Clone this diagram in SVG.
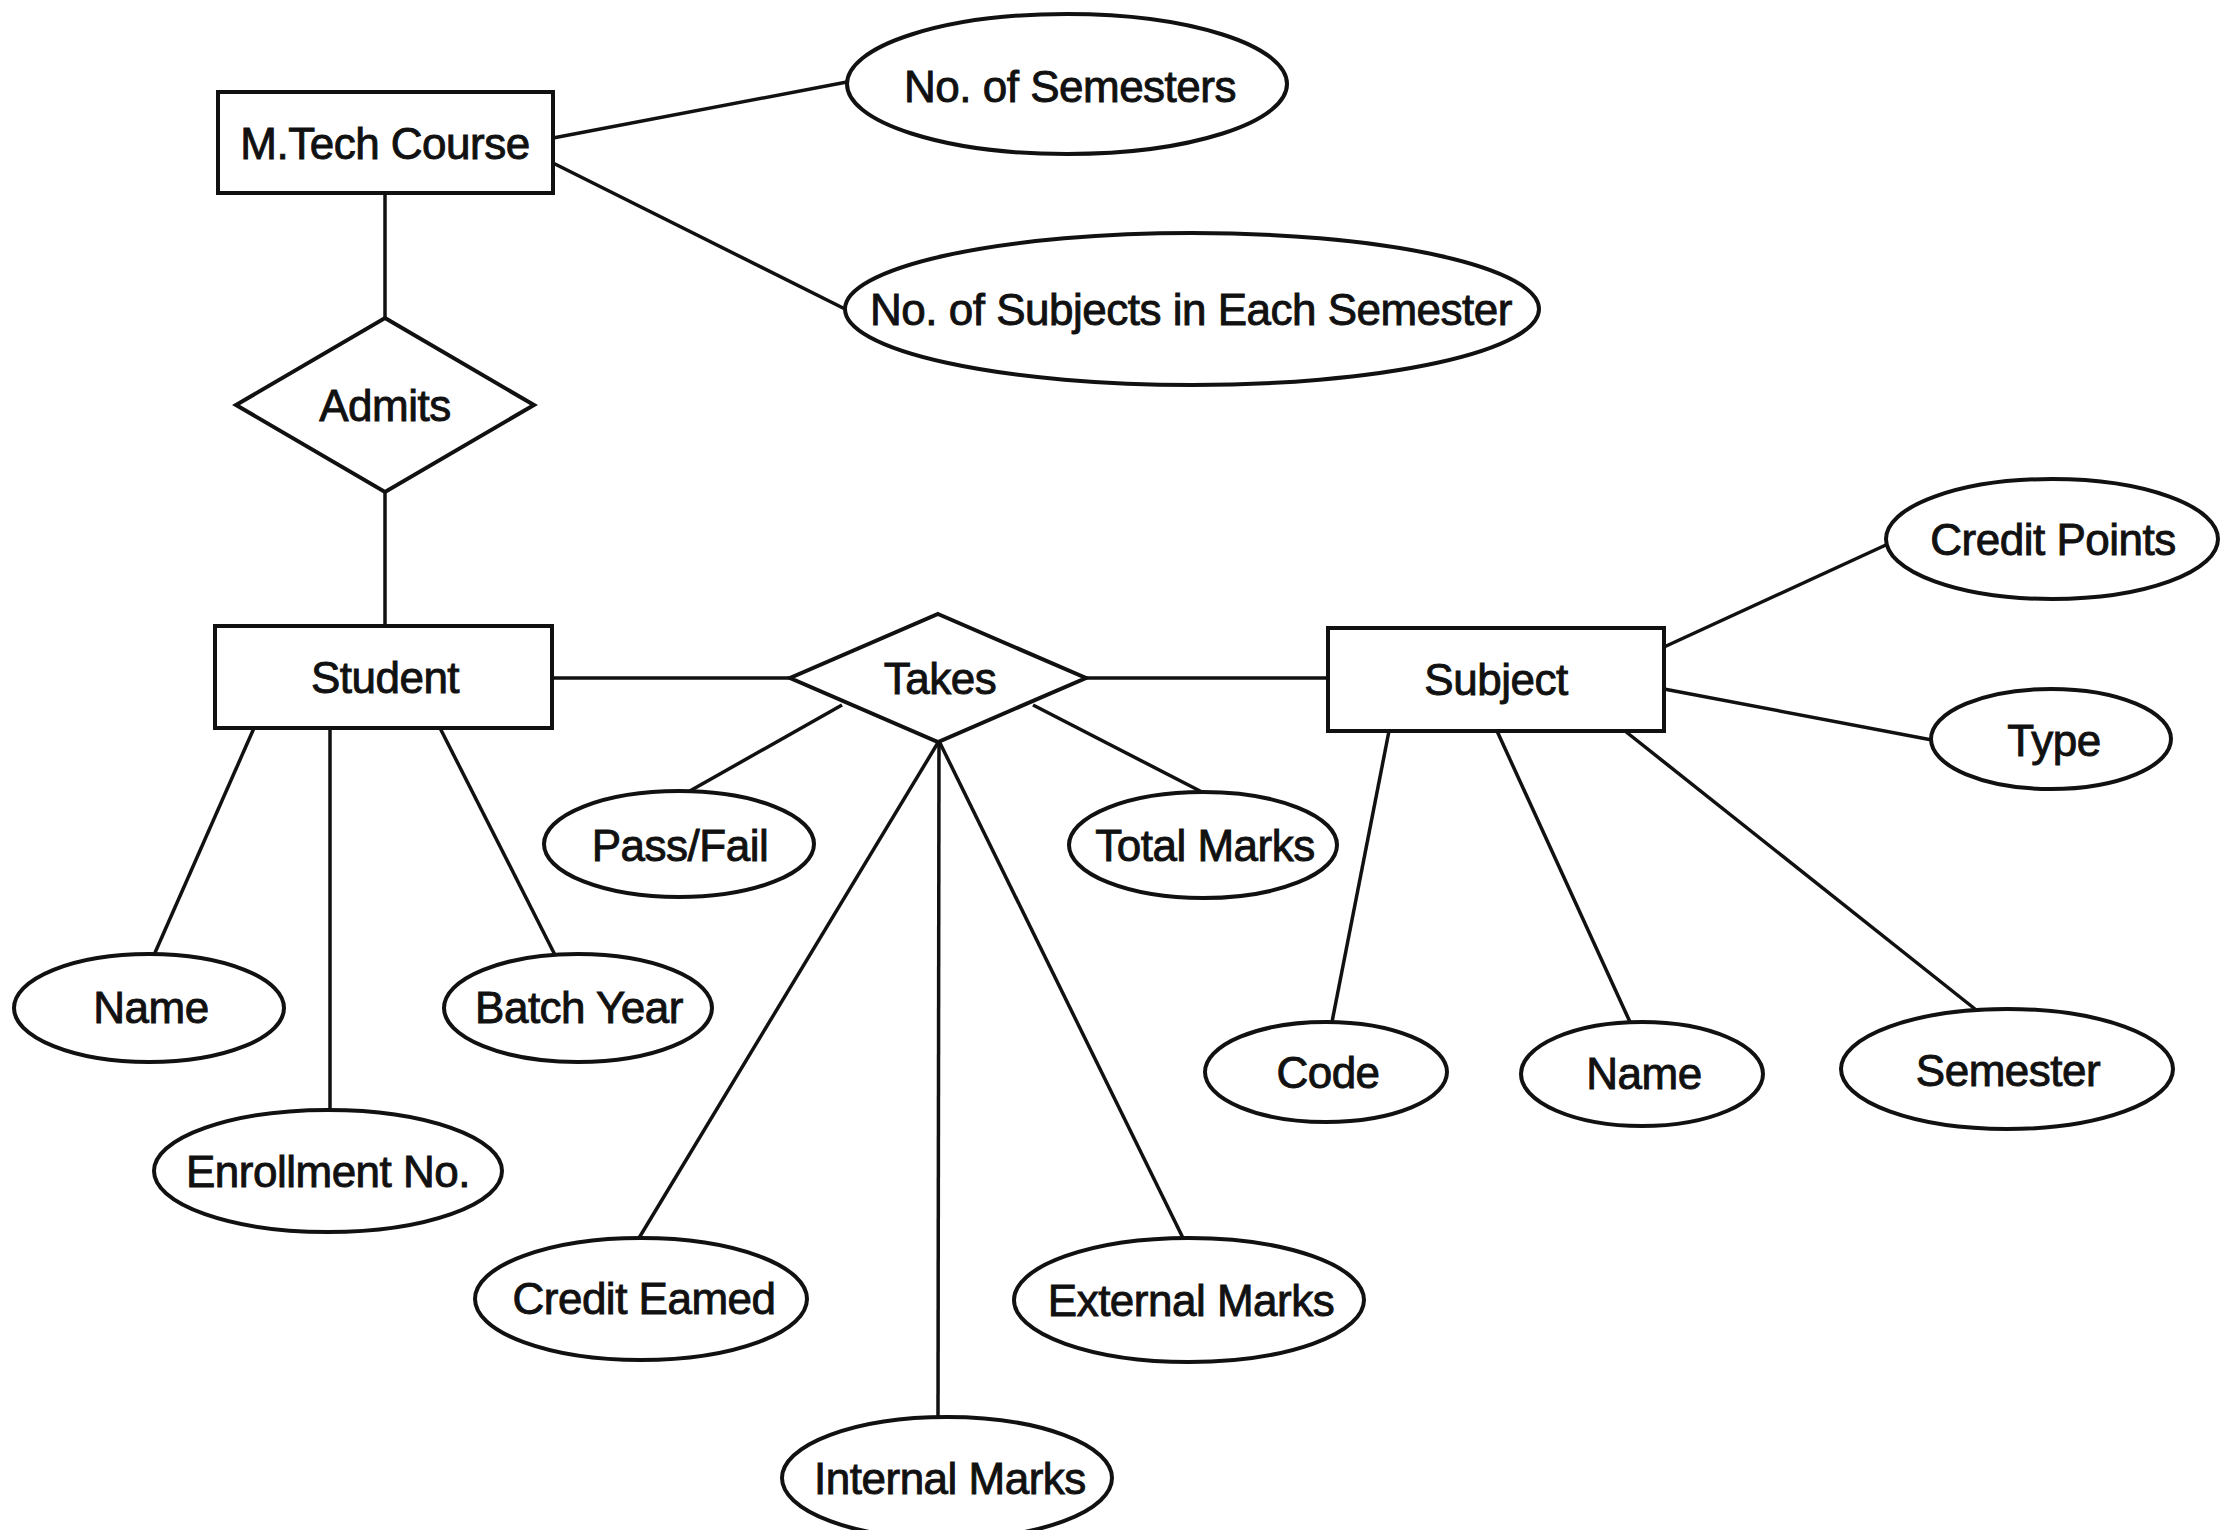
<svg xmlns="http://www.w3.org/2000/svg" width="2238" height="1530" viewBox="0 0 2238 1530">
<style>
.s{fill:#fff;stroke:#111;stroke-width:4}
.c{stroke:#111;stroke-width:3.5;fill:none}
text{font-family:"Liberation Sans",Arial,sans-serif;font-size:44px;letter-spacing:-0.5px;fill:#111;stroke:#111;stroke-width:0.9;text-anchor:middle}
</style>
<rect width="2238" height="1530" fill="#fff"/>
<g id="connectors">
<line class="c" x1="553" y1="138" x2="847" y2="82"/>
<line class="c" x1="553" y1="163" x2="847" y2="310"/>
<line class="c" x1="385" y1="193" x2="385" y2="318"/>
<line class="c" x1="385" y1="492" x2="385" y2="626"/>
<line class="c" x1="552" y1="678" x2="790" y2="678"/>
<line class="c" x1="1086" y1="678" x2="1328" y2="678"/>
<line class="c" x1="254" y1="728" x2="154" y2="955"/>
<line class="c" x1="330" y1="728" x2="330" y2="1110"/>
<line class="c" x1="440" y1="728" x2="555" y2="955"/>
<line class="c" x1="842" y1="705" x2="688" y2="792"/>
<line class="c" x1="1033" y1="705" x2="1202" y2="792"/>
<line class="c" x1="939" y1="741" x2="639" y2="1238"/>
<line class="c" x1="939" y1="741" x2="938" y2="1417"/>
<line class="c" x1="939" y1="741" x2="1183" y2="1238"/>
<line class="c" x1="1664" y1="647" x2="1888" y2="544"/>
<line class="c" x1="1664" y1="689" x2="1932" y2="740"/>
<line class="c" x1="1389" y1="731" x2="1332" y2="1022"/>
<line class="c" x1="1497" y1="731" x2="1630" y2="1022"/>
<line class="c" x1="1625" y1="731" x2="1975" y2="1009"/>
</g>
<g id="mtech-course"><rect class="s" x="218" y="92" width="335" height="101"/><text x="385" y="159">M.Tech Course</text></g>
<g id="no-of-semesters"><ellipse class="s" cx="1067" cy="84" rx="220" ry="70"/><text x="1070" y="102">No. of Semesters</text></g>
<g id="no-of-subjects"><ellipse class="s" cx="1192" cy="309" rx="347" ry="76"/><text x="1191" y="325">No. of Subjects in Each Semester</text></g>
<g id="admits"><polygon class="s" points="385,318 534,405 385,492 236,405"/><text x="385" y="421">Admits</text></g>
<g id="student"><rect class="s" x="215" y="626" width="337" height="102"/><text x="385" y="693">Student</text></g>
<g id="takes"><polygon class="s" points="938,614 1086,678 938,742 790,678"/><text x="940" y="694">Takes</text></g>
<g id="subject"><rect class="s" x="1328" y="628" width="336" height="103"/><text x="1496" y="695">Subject</text></g>
<g id="credit-points"><ellipse class="s" cx="2052" cy="539" rx="166" ry="60"/><text x="2053" y="555">Credit Points</text></g>
<g id="type"><ellipse class="s" cx="2051" cy="739" rx="120" ry="50"/><text x="2054" y="756">Type</text></g>
<g id="student-name"><ellipse class="s" cx="149" cy="1008" rx="135" ry="54"/><text x="151" y="1023">Name</text></g>
<g id="enrollment-no"><ellipse class="s" cx="328" cy="1171" rx="174" ry="61"/><text x="328" y="1187">Enrollment No.</text></g>
<g id="batch-year"><ellipse class="s" cx="578" cy="1008" rx="134" ry="54"/><text x="579" y="1023">Batch Year</text></g>
<g id="pass-fail"><ellipse class="s" cx="679" cy="844" rx="135" ry="53"/><text x="680" y="861">Pass/Fail</text></g>
<g id="total-marks"><ellipse class="s" cx="1203" cy="845" rx="134" ry="53"/><text x="1205" y="861">Total Marks</text></g>
<g id="credit-earned"><ellipse class="s" cx="641" cy="1299" rx="166" ry="61"/><text x="644" y="1314">Credit Eamed</text></g>
<g id="internal-marks"><ellipse class="s" cx="947" cy="1478" rx="165" ry="61"/><text x="950" y="1494">Internal Marks</text></g>
<g id="external-marks"><ellipse class="s" cx="1189" cy="1300" rx="175" ry="62"/><text x="1191" y="1316">External Marks</text></g>
<g id="code"><ellipse class="s" cx="1326" cy="1072" rx="121" ry="50"/><text x="1328" y="1088">Code</text></g>
<g id="subject-name"><ellipse class="s" cx="1642" cy="1074" rx="121" ry="52"/><text x="1644" y="1089">Name</text></g>
<g id="semester"><ellipse class="s" cx="2007" cy="1069" rx="166" ry="60"/><text x="2008" y="1086">Semester</text></g>
</svg>
